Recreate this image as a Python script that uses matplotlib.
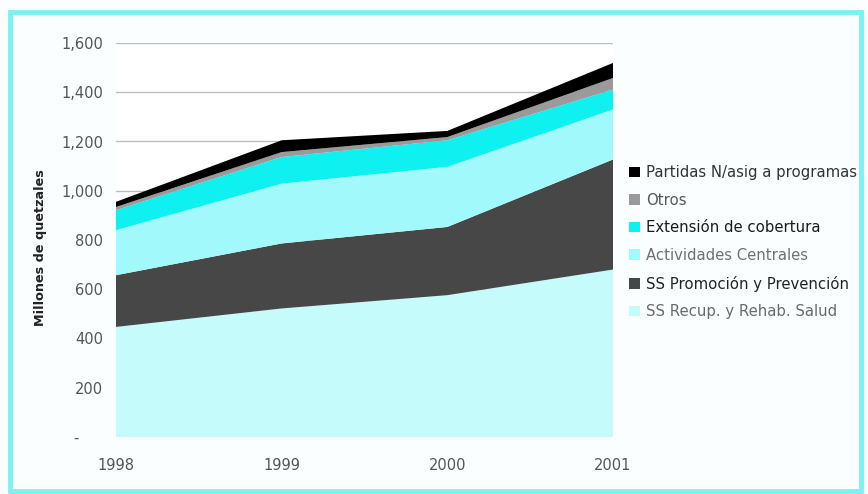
import matplotlib
matplotlib.use("Agg")
import matplotlib.pyplot as plt
from matplotlib.patches import Rectangle, Patch

plt.rcParams['font.family'] = ['DejaVu Sans']

years = [1998, 1999, 2000, 2001]
series_names = [
    "SS Recup. y Rehab. Salud",
    "SS Promoción y Prevención",
    "Actividades Centrales",
    "Extensión de cobertura",
    "Otros",
    "Partidas N/asig a programas",
]
recup = [447, 522, 576, 680]
promocion = [210, 264, 277, 447]
actividades = [183, 243, 244, 203]
extension = [81, 108, 108, 81]
otros = [13, 20, 13, 47]
partidas = [21, 48, 25, 61]

colors = ["#c6fbfb", "#474747", "#a2f9fb", "#0ff0f0", "#9a9a9a", "#000000"]
text_colors = ["#6a6a6a", "#222222", "#707070", "#1a1a1a", "#555555", "#333333"]

y_ticks = [0, 200, 400, 600, 800, 1000, 1200, 1400, 1600]
y_ticklabels = ["-     ", "200", "400", "600", "800", "1,000", "1,200", "1,400", "1,600"]

fig = plt.figure(figsize=(8.68, 4.94), dpi=100)
fig.patch.set_facecolor("#fbfefe")

# cyan frame around the figure
fig.patches.append(Rectangle((10 / 868, 3 / 494), 851 / 868, 479 / 494,
                             transform=fig.transFigure, fill=False,
                             edgecolor="#7ff0f0", linewidth=3.5, zorder=0))

ax = fig.add_axes([116 / 868, 1 - 437 / 494, 497 / 868, 394 / 494])
ax.set_facecolor("white")

data = [recup, promocion, actividades, extension, otros, partidas]
polys = ax.stackplot(years, *data, colors=colors, zorder=2, linewidth=0)

ax.set_xlim(1998, 2001)
ax.set_ylim(0, 1600)
ax.set_xticks(years)
ax.set_xticklabels([str(y) for y in years])
ax.set_yticks(y_ticks)
ax.set_yticklabels(y_ticklabels)
ax.grid(axis="y", color="#bdbdbd", linewidth=1.0, zorder=1)
ax.set_axisbelow(True)
for s in ax.spines.values():
    s.set_visible(False)
ax.tick_params(axis="both", length=0, labelsize=10.5, labelcolor="#555555")
ax.tick_params(axis="y", pad=9.4)
ax.tick_params(axis="x", pad=15)

ax.set_ylabel("Millones de quetzales", fontsize=9.2, fontweight="bold",
              color="#222222")
ax.yaxis.set_label_coords((47 - 116) / 497, 0.48)

handles = [Patch(facecolor=c, edgecolor="none") for c in colors][::-1]
labels = series_names[::-1]
leg = fig.legend(handles, labels, loc="upper left",
                 bbox_to_anchor=(629 / 868, 1 - 165 / 494),
                 frameon=False, fontsize=10.7, handlelength=0.72,
                 handleheight=0.72, handletextpad=0.4,
                 labelspacing=0.85, borderaxespad=0, borderpad=0)
for t, c in zip(leg.get_texts(), text_colors[::-1]):
    t.set_color(c)

fig.savefig("out.png", dpi=100, facecolor=fig.get_facecolor())
